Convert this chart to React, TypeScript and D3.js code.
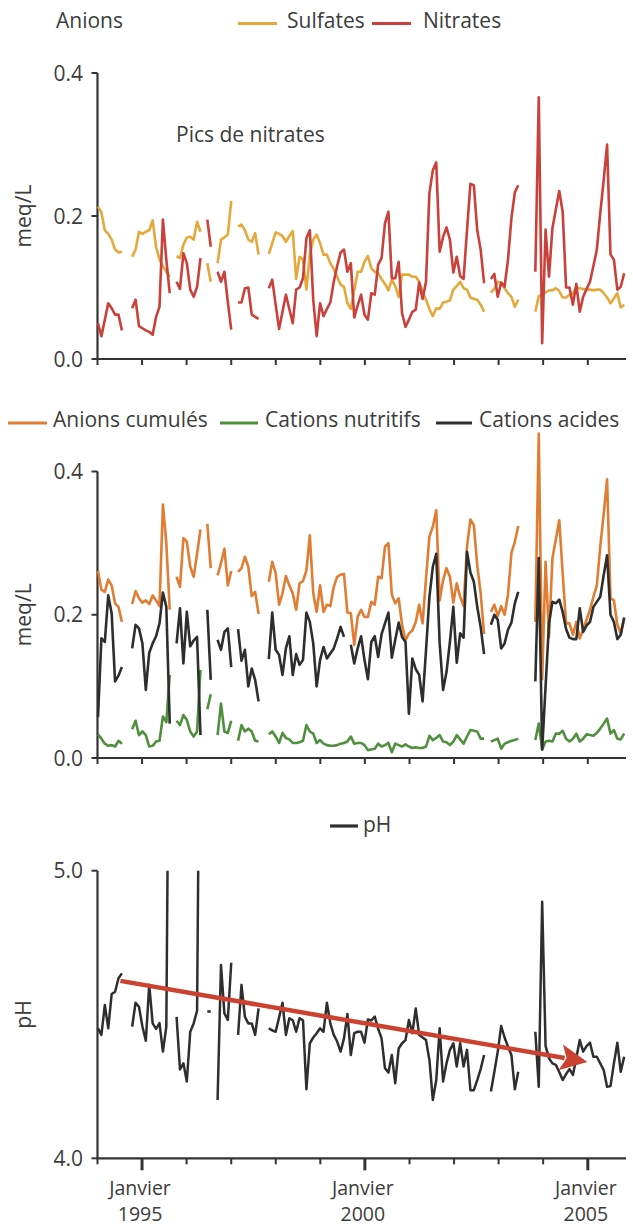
import * as d3 from "d3";

// sampling every 4 weeks from early January 1994; null = no sample
const N = null;
type V = number | null;

const sulfates: V[] = [
  0.213, 0.205, 0.18, 0.175, 0.167, 0.153, 0.149, 0.15, N, N,
  0.143, 0.153, 0.178, 0.175, 0.178, 0.18, 0.194, 0.157, 0.139, 0.13,
  0.122, 0.115, N, 0.144, 0.141, 0.16, 0.17, 0.171, 0.167, 0.192,
  0.178, N, 0.134, 0.108, N, 0.134, 0.167, 0.17, 0.174, 0.221,
  N, 0.185, 0.188, 0.18, 0.167, 0.164, 0.176, 0.146, N, N,
  0.147, 0.162, 0.177, 0.175, 0.172, 0.164, 0.172, 0.179, 0.112, 0.143,
  0.139, 0.097, 0.146, 0.167, 0.174, 0.162, 0.146, 0.146, 0.134, 0.126,
  0.115, 0.104, 0.101, 0.078, 0.07, 0.096, 0.122, 0.122, 0.136, 0.144,
  0.127, 0.122, 0.12, 0.112, 0.105, 0.096, 0.111, 0.102, 0.087, 0.118,
  0.118, 0.118, 0.115, 0.115, 0.108, 0.095, 0.083, 0.07, 0.06, 0.071,
  0.07, 0.079, 0.08, 0.082, 0.097, 0.102, 0.108, 0.099, 0.097, 0.086,
  0.084, 0.083, 0.076, 0.066, N, 0.093, 0.098, 0.108, 0.107, 0.099,
  0.092, 0.087, 0.073, 0.083, N, N, N, N, 0.066, 0.088,
  0.09, 0.093, 0.096, 0.096, 0.099, 0.095, 0.086, 0.086, 0.09, 0.092,
  0.1, 0.099, 0.098, 0.097, 0.097, 0.096, 0.097, 0.097, 0.092, 0.086,
  0.078, 0.085, 0.092, 0.072, 0.076,
];

const nitrates: V[] = [
  0.05, 0.032, 0.055, 0.078, 0.071, 0.062, 0.062, 0.04, N, N,
  0.071, 0.083, 0.046, 0.043, 0.04, 0.038, 0.034, 0.059, 0.073, 0.195,
  0.139, 0.092, N, 0.108, 0.098, 0.148, 0.134, 0.097, 0.087, 0.101,
  0.141, N, 0.195, 0.157, N, 0.122, 0.108, 0.122, 0.08, 0.041,
  N, 0.079, 0.079, 0.099, 0.1, 0.062, 0.059, 0.056, N, N,
  0.099, 0.111, 0.076, 0.042, 0.066, 0.09, 0.07, 0.05, 0.097, 0.1,
  0.113, 0.169, 0.18, 0.083, 0.032, 0.078, 0.06, 0.07, 0.079, 0.108,
  0.13, 0.149, 0.153, 0.122, 0.134, 0.058, 0.075, 0.09, 0.062, 0.055,
  0.092, 0.09, 0.132, 0.141, 0.19, 0.206, 0.113, 0.113, 0.136, 0.064,
  0.045, 0.055, 0.066, 0.069, 0.107, 0.084, 0.108, 0.232, 0.264, 0.275,
  0.15, 0.171, 0.184, 0.167, 0.121, 0.143, 0.116, 0.112, 0.18, 0.245,
  0.243, 0.18, 0.153, 0.106, N, 0.112, 0.119, 0.087, 0.107, 0.101,
  0.139, 0.197, 0.233, 0.243, N, N, N, N, 0.122, 0.366,
  0.022, 0.181, 0.115, 0.183, 0.209, 0.235, 0.206, 0.1, 0.1, 0.076,
  0.105, 0.066, 0.087, 0.098, 0.108, 0.13, 0.153, 0.204, 0.25, 0.3,
  0.146, 0.139, 0.097, 0.101, 0.12,
];

const anionsCumules: V[] = [
  0.261, 0.235, 0.232, 0.249, 0.241, 0.216, 0.211, 0.19, N, N,
  0.215, 0.233, 0.223, 0.217, 0.22, 0.215, 0.227, 0.22, 0.212, 0.354,
  0.3, 0.207, N, 0.253, 0.239, 0.307, 0.302, 0.267, 0.253, 0.285,
  0.319, N, 0.327, 0.265, N, 0.255, 0.272, 0.292, 0.241, 0.261,
  N, 0.26, 0.265, 0.281, 0.267, 0.226, 0.232, 0.201, N, N,
  0.246, 0.274, 0.258, 0.214, 0.23, 0.254, 0.241, 0.23, 0.207, 0.244,
  0.247, 0.262, 0.311, 0.23, 0.204, 0.241, 0.204, 0.214, 0.212, 0.239,
  0.253, 0.256, 0.257, 0.203, 0.202, 0.158, 0.197, 0.207, 0.197, 0.197,
  0.218, 0.214, 0.253, 0.251, 0.295, 0.3, 0.228, 0.216, 0.223, 0.186,
  0.164, 0.174, 0.178, 0.19, 0.214, 0.188, 0.25, 0.309, 0.323, 0.346,
  0.22, 0.248, 0.265, 0.253, 0.217, 0.244, 0.225, 0.212, 0.295, 0.333,
  0.325, 0.269, 0.23, 0.173, N, 0.204, 0.214, 0.198, 0.212, 0.2,
  0.228, 0.286, 0.302, 0.324, N, N, N, N, 0.19, 0.453,
  0.11, 0.274, 0.169, 0.279, 0.305, 0.332, 0.258, 0.188, 0.188, 0.172,
  0.19, 0.167, 0.179, 0.193, 0.207, 0.225, 0.241, 0.295, 0.34, 0.389,
  0.223, 0.22, 0.186, 0.174, 0.195,
];

const cationsNutritifs: V[] = [
  0.033, 0.027, 0.02, 0.017, 0.018, 0.016, 0.024, 0.02, N, N,
  0.04, 0.052, 0.032, 0.037, 0.032, 0.016, 0.017, 0.023, 0.024, 0.058,
  0.05, 0.116, N, 0.052, 0.046, 0.06, 0.053, 0.037, 0.03, 0.037,
  0.123, N, 0.068, 0.089, N, 0.032, 0.076, 0.037, 0.035, 0.052,
  N, 0.024, 0.046, 0.037, 0.041, 0.037, 0.024, 0.023, N, N,
  0.033, 0.037, 0.03, 0.021, 0.035, 0.028, 0.026, 0.021, 0.021, 0.022,
  0.024, 0.046, 0.037, 0.034, 0.021, 0.025, 0.02, 0.018, 0.017, 0.017,
  0.018, 0.02, 0.021, 0.023, 0.03, 0.02, 0.021, 0.021, 0.018, 0.011,
  0.012, 0.013, 0.02, 0.016, 0.018, 0.021, 0.008, 0.02, 0.018, 0.016,
  0.019, 0.016, 0.014, 0.015, 0.014, 0.014, 0.016, 0.031, 0.025, 0.028,
  0.032, 0.023, 0.022, 0.018, 0.023, 0.032, 0.026, 0.02, 0.03, 0.039,
  0.038, 0.037, 0.027, 0.027, N, 0.023, 0.025, 0.027, 0.013, 0.02,
  0.022, 0.024, 0.025, 0.027, N, N, N, N, 0.025, 0.048,
  0.012, 0.023, 0.024, 0.023, 0.034, 0.034, 0.038, 0.027, 0.023, 0.027,
  0.034, 0.023, 0.027, 0.033, 0.032, 0.031, 0.035, 0.041, 0.048, 0.055,
  0.034, 0.039, 0.027, 0.026, 0.034,
];

const cationsAcides: V[] = [
  0.057, 0.167, 0.162, 0.227, 0.202, 0.107, 0.115, 0.127, N, N,
  0.153, 0.186, 0.181, 0.16, 0.095, 0.147, 0.16, 0.17, 0.188, 0.231,
  0.211, 0.048, N, 0.16, 0.209, 0.132, 0.204, 0.156, 0.164, 0.169,
  0.032, N, 0.207, 0.109, N, 0.165, 0.151, 0.176, 0.181, 0.127,
  N, 0.18, 0.136, 0.151, 0.1, 0.125, 0.109, 0.079, N, N,
  0.138, 0.203, 0.151, 0.144, 0.116, 0.153, 0.17, 0.116, 0.145, 0.13,
  0.137, 0.203, 0.19, 0.16, 0.1, 0.137, 0.155, 0.139, 0.146, 0.153,
  0.167, 0.183, 0.169, N, 0.158, 0.132, 0.153, 0.17, 0.137, 0.11,
  0.162, 0.17, 0.141, 0.173, 0.188, 0.203, 0.14, 0.165, 0.189, 0.169,
  0.162, 0.062, 0.139, 0.124, 0.116, 0.079, 0.15, 0.225, 0.267, 0.285,
  0.16, 0.095, 0.12, 0.162, 0.211, 0.133, 0.174, 0.168, 0.288, 0.259,
  0.246, 0.211, 0.183, 0.145, N, 0.186, 0.2, 0.193, 0.153, 0.16,
  0.179, 0.189, 0.216, 0.232, N, N, N, N, 0.107, 0.279,
  0.012, 0.1, 0.188, 0.218, 0.216, 0.221, 0.204, 0.18, 0.168, 0.166,
  0.166, 0.209, 0.176, 0.185, 0.19, 0.211, 0.218, 0.225, 0.255, 0.283,
  0.2, 0.19, 0.166, 0.172, 0.196,
];

const ph: V[] = [
  4.452, 4.429, 4.533, 4.452, 4.571, 4.579, 4.626, 4.643, N, N,
  4.458, 4.541, 4.527, 4.458, 4.409, 4.603, 4.469, 4.45, 4.47, 4.371,
  4.458, 6.0, N, 4.492, 4.309, 4.33, 4.267, 4.44, 4.469, 4.513,
  6.0, N, 4.51, 4.51, N, 4.203, 4.672, 4.504, 4.481, 4.68,
  N, 4.429, 4.603, 4.492, 4.469, 4.469, 4.429, 4.521, N, N,
  4.452, 4.445, 4.44, 4.49, 4.541, 4.429, 4.487, 4.48, 4.44, 4.487,
  4.48, 4.24, 4.4, 4.42, 4.435, 4.452, 4.44, 4.541, 4.469, 4.429,
  4.406, 4.371, 4.417, 4.502, 4.359, 4.435, 4.44, 4.44, 4.402, 4.483,
  4.479, 4.493, 4.45, 4.417, 4.313, 4.298, 4.359, 4.261, 4.382, 4.4,
  4.411, 4.481, 4.435, 4.521, 4.429, 4.42, 4.411, 4.342, 4.203, 4.272,
  4.452, 4.267, 4.33, 4.377, 4.4, 4.319, 4.4, 4.319, 4.377, 4.237,
  4.237, 4.272, 4.31, 4.359, N, 4.232, 4.3, 4.371, 4.46, 4.42,
  4.388, 4.359, 4.24, 4.301, N, N, N, N, 4.44, 4.249,
  4.892, 4.39, 4.348, 4.33, 4.325, 4.3, 4.272, 4.293, 4.31, 4.29,
  4.35, 4.411, 4.371, 4.39, 4.402, 4.353, 4.353, 4.33, 4.307, 4.249,
  4.251, 4.33, 4.402, 4.301, 4.353,
];

// pH trend (arrow)
const trendDates = [new Date(1994, 6, 8), new Date(2004, 11, 28)];
const trendValues = [4.617, 4.335];

const yearTicks = [1994, 1995, 1996, 1997, 1998, 1999, 2000, 2001, 2002, 2003, 2004, 2005];
const labelYears = [1995, 2000, 2005];
const anionTicks = [0, 0.2, 0.4];
const phTicks = [4, 5];

const firstSample = new Date(1994, 0, 5);
const sampleDates = sulfates.map((_, j) => d3.timeDay.offset(firstSample, 28 * j));

const FONT = "'Open Sans', 'Noto Sans', sans-serif";
const TEXT = "#3c3c3c";
const AXIS = "#333";
const C_SULF = "#E5A83A";
const C_NITR = "#C9413A";
const C_ANION = "#E07D33";
const C_NUTR = "#4F8F3D";
const C_ACID = "#2E2E2E";
const C_TREND = "#CB4230";

const plotLeft = 97.5;
const plotRight = 626;

const x = d3
  .scaleTime()
  .domain([new Date(1994, 0, 1), new Date(2005, 10, 10)])
  .range([plotLeft, plotRight]);

const yTop = d3.scaleLinear().domain([0, 0.4]).range([359, 73]);
const yMid = d3.scaleLinear().domain([0, 0.4]).range([758, 471.5]);
const yPh = d3.scaleLinear().domain([4, 5]).range([1158.3, 870.7]);

const linePath = (values: V[], y: d3.ScaleLinear<number, number>) =>
  d3
    .line<V>()
    .defined((v) => v != null)
    .x((_, i) => x(sampleDates[i]))
    .y((v) => y(v as number))(values) || "";

const Axes = ({ y, ticks, fmt, bigTicks }: { y: d3.ScaleLinear<number, number>; ticks: number[]; fmt: (v: number) => string; bigTicks?: boolean }) => {
  const y0 = y.range()[0];
  const y1 = y.range()[1];
  return (
    <g>
      <line x1={plotLeft} x2={plotLeft} y1={y1} y2={y0} stroke={AXIS} strokeWidth={2.2} />
      <line x1={plotLeft - 1} x2={plotRight} y1={y0} y2={y0} stroke={AXIS} strokeWidth={2.2} />
      {ticks.map((t) => (
        <g key={t}>
          <line x1={plotLeft - 6} x2={plotLeft} y1={y(t)} y2={y(t)} stroke={AXIS} strokeWidth={2} />
          <text x={83} y={y(t)} dy="0.36em" textAnchor="end" fontSize={21} fill={TEXT}>
            {fmt(t)}
          </text>
        </g>
      ))}
      {yearTicks.map((yr) => {
        const big = bigTicks && labelYears.includes(yr);
        const tx = x(new Date(yr, 0, 1));
        return <line key={yr} x1={tx} x2={tx} y1={y0} y2={y0 + (big ? 12 : 6)} stroke={AXIS} strokeWidth={big ? 3 : 2} />;
      })}
    </g>
  );
};

export default function App() {
  const f1 = d3.format(".1f");

  // arrow geometry from the trend values
  const ax0 = x(trendDates[0]);
  const ay0 = yPh(trendValues[0]);
  const ax1 = x(trendDates[1]);
  const ay1 = yPh(trendValues[1]);
  const len = Math.hypot(ax1 - ax0, ay1 - ay0);
  const ux = (ax1 - ax0) / len;
  const uy = (ay1 - ay0) / len;
  const headL = 27;
  const headW = 13;
  const bx = ax1 - ux * headL;
  const by = ay1 - uy * headL;
  const head = [
    [ax1, ay1],
    [bx - uy * headW, by + ux * headW],
    [bx + 6 * ux, by + 6 * uy],
    [bx + uy * headW, by - ux * headW],
  ];

  return (
    <svg
      width={633}
      height={1226}
      style={{ position: "absolute", left: 0, top: 0, background: "#fff" }}
      fontFamily={FONT}
    >
      <defs>
        <clipPath id="phClip">
          <rect x={plotLeft} y={yPh(5)} width={plotRight - plotLeft} height={yPh(4) - yPh(5)} />
        </clipPath>
      </defs>

      {/* ---------- panel 1: anions ---------- */}
      <text x={56} y={28} fontSize={21} fill={TEXT}>Anions</text>
      <line x1={238} x2={277} y1={23.5} y2={23.5} stroke={C_SULF} strokeWidth={3.2} />
      <text x={287} y={28} fontSize={21} fill={TEXT}>Sulfates</text>
      <line x1={372} x2={411} y1={23.5} y2={23.5} stroke={C_NITR} strokeWidth={3.2} />
      <text x={423} y={28} fontSize={21} fill={TEXT}>Nitrates</text>

      <Axes y={yTop} ticks={anionTicks} fmt={f1} />
      <text transform={`translate(31,${yTop(0.2)}) rotate(-90)`} textAnchor="middle" fontSize={21} fill={TEXT}>meq/L</text>
      <text x={176} y={142} fontSize={21} fill={TEXT}>Pics de nitrates</text>

      <path d={linePath(sulfates, yTop)} fill="none" stroke={C_SULF} strokeWidth={2.6} strokeLinejoin="round" />
      <path d={linePath(nitrates, yTop)} fill="none" stroke={C_NITR} strokeWidth={2.6} strokeLinejoin="round" />

      {/* ---------- panel 2: anions vs cations ---------- */}
      <line x1={8} x2={47} y1={423} y2={423} stroke={C_ANION} strokeWidth={3.2} />
      <text x={53} y={427} fontSize={21} fill={TEXT}>Anions cumulés</text>
      <line x1={220} x2={258} y1={423} y2={423} stroke={C_NUTR} strokeWidth={3.2} />
      <text x={265} y={427} fontSize={21} fill={TEXT}>Cations nutritifs</text>
      <line x1={436} x2={472} y1={423} y2={423} stroke={C_ACID} strokeWidth={3.2} />
      <text x={479} y={427} fontSize={21} fill={TEXT}>Cations acides</text>

      <Axes y={yMid} ticks={anionTicks} fmt={f1} />
      <text transform={`translate(31,${yMid(0.2)}) rotate(-90)`} textAnchor="middle" fontSize={21} fill={TEXT}>meq/L</text>

      <path d={linePath(anionsCumules, yMid)} fill="none" stroke={C_ANION} strokeWidth={2.6} strokeLinejoin="round" />
      <path d={linePath(cationsNutritifs, yMid)} fill="none" stroke={C_NUTR} strokeWidth={2.6} strokeLinejoin="round" />
      <path d={linePath(cationsAcides, yMid)} fill="none" stroke={C_ACID} strokeWidth={2.6} strokeLinejoin="round" />

      {/* ---------- panel 3: pH ---------- */}
      <line x1={330} x2={358} y1={826} y2={826} stroke={C_ACID} strokeWidth={3.2} />
      <text x={363} y={832} fontSize={21} fill={TEXT}>pH</text>

      <Axes y={yPh} ticks={phTicks} fmt={f1} bigTicks />
      <text transform={`translate(31,${yPh(4.5)}) rotate(-90)`} textAnchor="middle" fontSize={21} fill={TEXT}>pH</text>

      <path d={linePath(ph, yPh)} fill="none" stroke={C_ACID} strokeWidth={2.5} strokeLinejoin="round" clipPath="url(#phClip)" />

      <line x1={ax0} y1={ay0} x2={bx + ux * 4} y2={by + uy * 4} stroke={C_TREND} strokeWidth={4.5} />
      <polygon points={head.map((p) => p.join(",")).join(" ")} fill={C_TREND} />

      {labelYears.map((yr) => {
        const tx = x(new Date(yr, 0, 1)) - 2;
        return (
          <g key={yr}>
            <text x={tx} y={1195} textAnchor="middle" fontSize={19.5} fill={TEXT}>Janvier</text>
            <text x={tx} y={1221} textAnchor="middle" fontSize={19.5} fill={TEXT}>{yr}</text>
          </g>
        );
      })}
    </svg>
  );
}
